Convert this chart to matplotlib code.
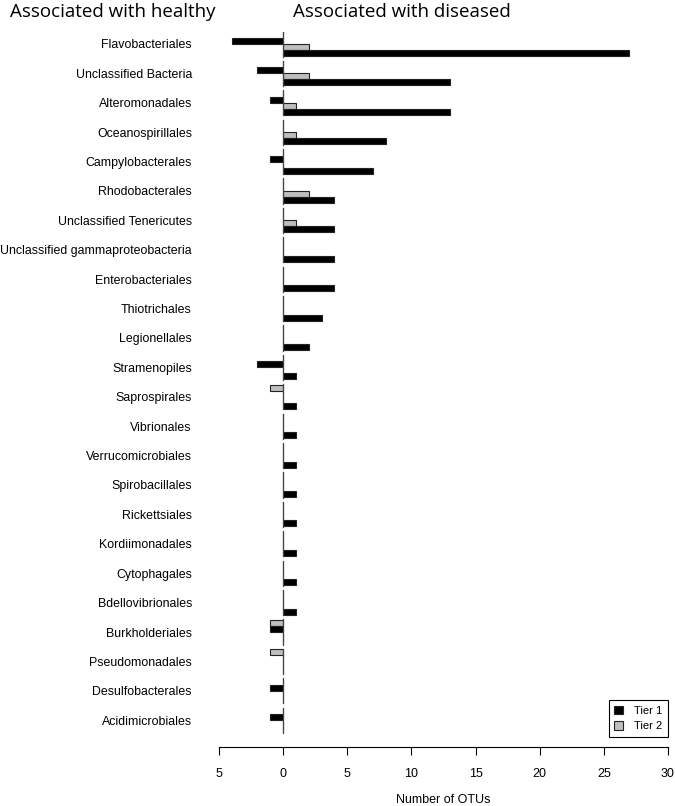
import numpy as np
import matplotlib.pyplot as plt
from matplotlib.patches import Patch

plt.rcParams['font.family'] = ['Liberation Sans', 'DejaVu Sans']

orders = ["Flavobacteriales", "Unclassified Bacteria", "Alteromonadales",
          "Oceanospirillales", "Campylobacterales", "Rhodobacterales",
          "Unclassified Tenericutes", "Unclassified gammaproteobacteria",
          "Enterobacteriales", "Thiotrichales", "Legionellales", "Stramenopiles",
          "Saprospirales", "Vibrionales", "Verrucomicrobiales", "Spirobacillales",
          "Rickettsiales", "Kordiimonadales", "Cytophagales", "Bdellovibrionales",
          "Burkholderiales", "Pseudomonadales", "Desulfobacterales", "Acidimicrobiales"]

# OTU counts (healthy drawn to the left of zero)
healthy_tier2 = [0, 0, 0, 0, 0, 0, 0, 0, 0, 0, 0, 0, 1, 0, 0, 0, 0, 0, 0, 0, 1, 1, 0, 0]
healthy_tier1 = [4, 2, 1, 0, 1, 0, 0, 0, 0, 0, 0, 2, 0, 0, 0, 0, 0, 0, 0, 0, 1, 0, 1, 1]
disease_tier2 = [2, 2, 1, 1, 0, 2, 1, 0, 0, 0, 0, 0, 0, 0, 0, 0, 0, 0, 0, 0, 0, 0, 0, 0]
disease_tier1 = [27, 13, 13, 8, 7, 4, 4, 4, 4, 3, 2, 1, 1, 1, 1, 1, 1, 1, 1, 1, 0, 0, 0, 0]

xticks = [-5, 0, 5, 10, 15, 20, 25, 30]

pitch = 4.9
centers = np.arange(len(orders)) * pitch

fig = plt.figure(figsize=(6.75, 8.06), dpi=100)
ax = fig.add_axes([0.3244, 0.0732, 0.6652, 0.8871])

black = 'black'
grey = '#bebebe'
kw = dict(height=1.0, edgecolor='#222222', linewidth=0.8)
ax.barh(centers - 1.5, -np.array(healthy_tier2), color=grey, **kw)
ax.barh(centers - 0.5, -np.array(healthy_tier1), color=black, **kw)
ax.barh(centers + 0.5, disease_tier2, color=grey, **kw)
ax.barh(centers + 1.5, disease_tier1, color=black, **kw)

for c in centers:
    ax.plot([0, 0], [c - 2.1, c + 2.1], color='#444444', lw=0.9, zorder=3)

ax.set_xlim(-5, 30)
ax.set_ylim(-2 + 715 / 6.0, -2)
ax.set_xticks(xticks)
ax.set_xticklabels([str(abs(t)) for t in xticks], fontsize=9)
ax.tick_params(axis='x', length=6, width=0.8, pad=9)
ax.set_yticks(centers)
ax.set_yticklabels(orders, fontsize=8.9)
ax.tick_params(axis='y', length=0, pad=19.5)
for s in ['top', 'right', 'left']:
    ax.spines[s].set_visible(False)
ax.spines['bottom'].set_linewidth(0.8)
ax.set_xlabel("Number of OTUs", fontsize=9, labelpad=10)

handles = [Patch(facecolor=black, edgecolor='#222222', lw=0.8, label='Tier 1'),
           Patch(facecolor=grey, edgecolor='#222222', lw=0.8, label='Tier 2')]
leg = ax.legend(handles=handles, loc='lower right', bbox_to_anchor=(1.0, 10 / 715),
                borderaxespad=0, fancybox=False, fontsize=8, handlelength=0.8,
                handleheight=0.8, framealpha=1, borderpad=0.5, handletextpad=1.0)
leg.get_frame().set_edgecolor('black')
leg.get_frame().set_linewidth(0.8)

fig.text(10 / 675, 1 - 12 / 806, "Associated with healthy", fontsize=13.5,
         family='Open Sans', va='center', ha='left')
fig.text(293 / 675, 1 - 12 / 806, "Associated with diseased", fontsize=13.5,
         family='Open Sans', va='center', ha='left')

fig.savefig('out.png', dpi=100)
